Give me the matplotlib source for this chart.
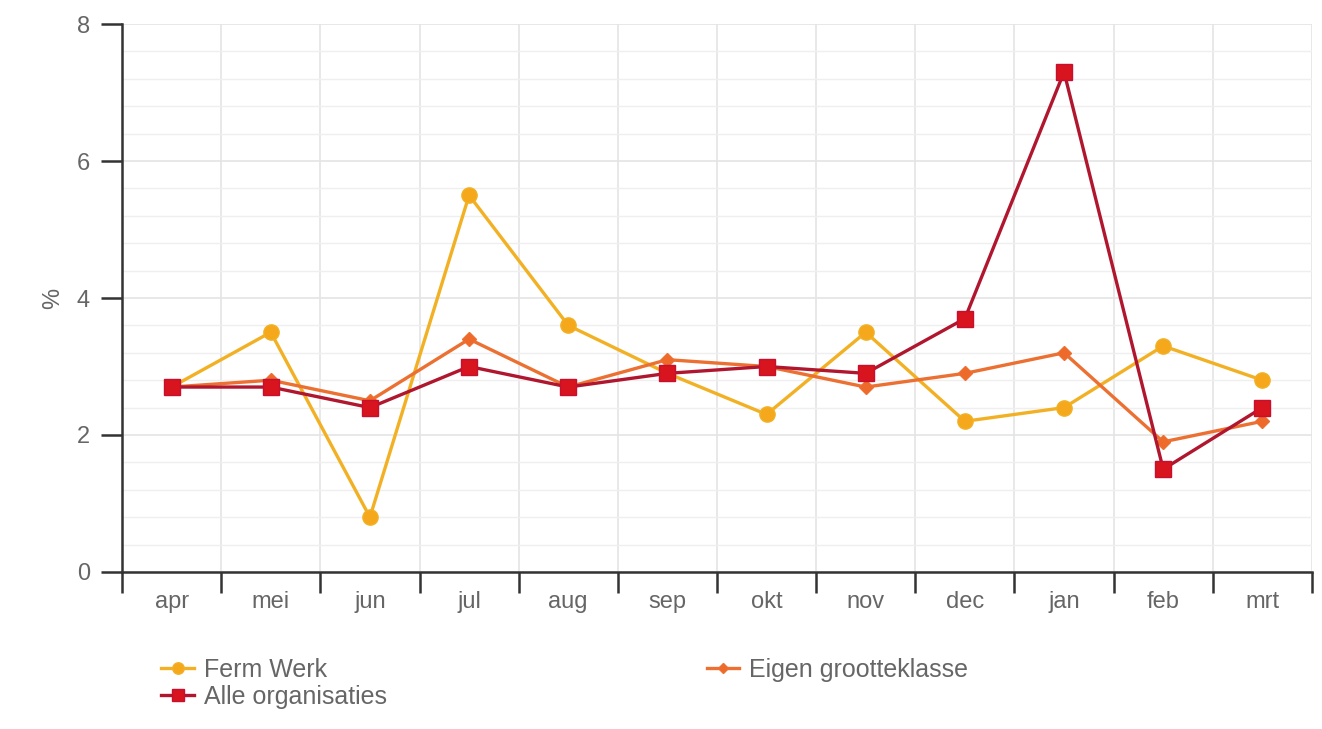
import matplotlib.pyplot as plt
import numpy as np
from matplotlib.ticker import MultipleLocator, FixedLocator

# months and series (% values)
months = ['apr', 'mei', 'jun', 'jul', 'aug', 'sep', 'okt', 'nov', 'dec', 'jan', 'feb', 'mrt']
ferm_werk = [2.7, 3.5, 0.8, 5.5, 3.6, 2.9, 2.3, 3.5, 2.2, 2.4, 3.3, 2.8]
eigen_klasse = [2.7, 2.8, 2.5, 3.4, 2.7, 3.1, 3.0, 2.7, 2.9, 3.2, 1.9, 2.2]
alle_org = [2.7, 2.7, 2.4, 3.0, 2.7, 2.9, 3.0, 2.9, 3.7, 7.3, 1.5, 2.4]

plt.rcParams['font.family'] = ['Liberation Sans', 'DejaVu Sans']

fig = plt.figure(figsize=(13.22, 7.29), dpi=100)
ax = fig.add_axes([0.0923, 0.2154, 0.9001, 0.7516])

x = np.arange(len(months))
l1, = ax.plot(x, ferm_werk, color='#f2b124', lw=2.4, marker='o', ms=11,
              mec='#f2b124', mfc='#f5a81c', label='Ferm Werk', zorder=3)
l2, = ax.plot(x, eigen_klasse, color='#ec7032', lw=2.4, marker='D', ms=7,
              mec='#ec7032', mfc='#ee6a2a', label='Eigen grootteklasse', zorder=4)
l3, = ax.plot(x, alle_org, color='#b0172f', lw=2.4, marker='s', ms=11.5,
              mec='#c8102e', mfc='#d8141f', label='Alle organisaties', zorder=5)

ax.set_xlim(-0.5, len(months) - 0.5)
ax.set_ylim(0, 8)

# y axis: major every 2, minor grid every 0.4
ax.yaxis.set_major_locator(MultipleLocator(2))
ax.yaxis.set_minor_locator(MultipleLocator(0.4))
ax.grid(axis='y', which='major', color='#e4e4e4', lw=1.2)
ax.grid(axis='y', which='minor', color='#efefef', lw=1.0)

# x axis: ticks at boundaries, labels at centers
ax.xaxis.set_major_locator(FixedLocator(np.arange(-0.5, len(months), 1)))
ax.set_xticklabels([])
ax.set_xticks(x, minor=True)
ax.set_xticklabels(months, minor=True)
ax.grid(axis='x', which='major', color='#e4e4e4', lw=1.2)
ax.tick_params(axis='x', which='major', direction='out', length=15, width=1.8, color='#333333')
ax.tick_params(axis='x', which='minor', length=0, pad=14, labelsize=17, labelcolor='#666666')
ax.tick_params(axis='y', which='major', direction='out', length=15, width=1.8, color='#333333',
               labelsize=17, labelcolor='#666666', pad=8)
ax.tick_params(axis='y', which='minor', length=0)
ax.set_axisbelow(True)

for s in ['top', 'right']:
    ax.spines[s].set_visible(False)
for s in ['left', 'bottom']:
    ax.spines[s].set_color('#333333')
    ax.spines[s].set_linewidth(1.8)

ax.set_ylabel('%', fontsize=17, color='#666666', labelpad=9)

fig.legend(handles=[l1, l3, l2], ncol=2, loc='upper left', bbox_to_anchor=(0.105, 0.128),
           frameon=False, fontsize=18, labelcolor='#666666', handlelength=1.3,
           handletextpad=0.4, columnspacing=12.8, labelspacing=0.1, markerscale=0.75)

fig.savefig('out.png', dpi=100)
